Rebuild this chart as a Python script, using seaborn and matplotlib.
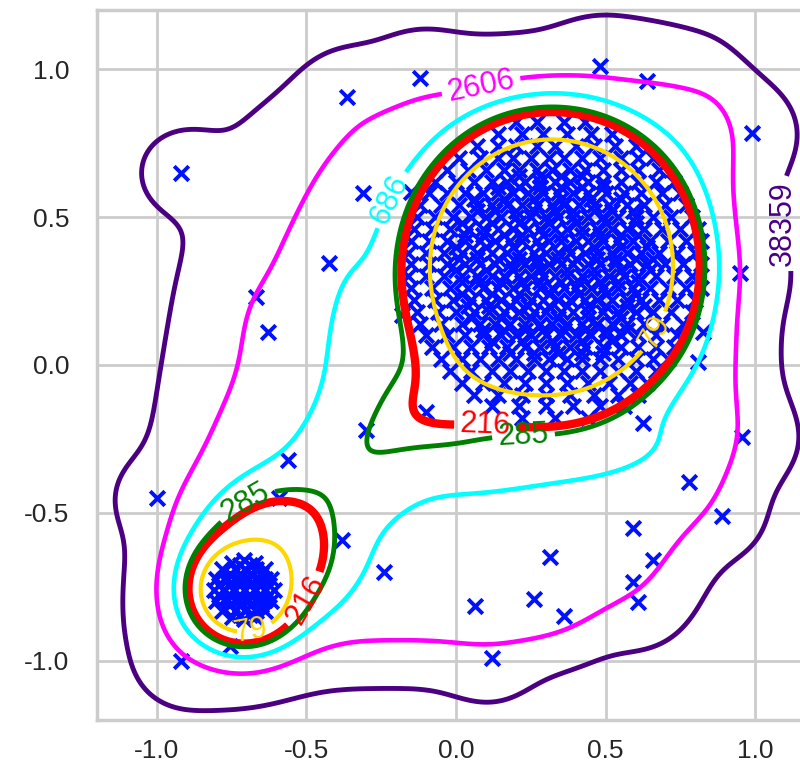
import matplotlib
matplotlib.use("Agg")
import matplotlib.pyplot as plt
import numpy as np
import pandas as pd
import seaborn as sns

# ---- data ----------------------------------------------------------------
# dense upper-right cluster, one row of x positions per y value
big_rows = [
    (0.82, [0.20, 0.27, 0.36, 0.43]),
    (0.78, [0.14, 0.22, 0.29, 0.37, 0.45, 0.52]),
    (0.74, [0.07, 0.14, 0.20, 0.27, 0.33, 0.40, 0.46, 0.53, 0.60]),
    (0.70, [0.01, 0.08, 0.14, 0.19, 0.25, 0.31, 0.36, 0.42, 0.48, 0.55, 0.61, 0.66]),
    (0.66, [-0.03, 0.04, 0.10, 0.16, 0.21, 0.27, 0.32, 0.38, 0.43, 0.49, 0.55, 0.61, 0.68]),
    (0.62, [-0.07, 0.00, 0.06, 0.12, 0.17, 0.23, 0.28, 0.33, 0.38, 0.44, 0.49, 0.55, 0.61, 0.67, 0.73]),
    (0.58, [-0.09, -0.03, 0.03, 0.09, 0.14, 0.19, 0.24, 0.29, 0.34, 0.39, 0.44, 0.50, 0.56, 0.62, 0.69, 0.75]),
    (0.54, [-0.12, -0.05, 0.01, 0.07, 0.12, 0.17, 0.22, 0.27, 0.32, 0.36, 0.41, 0.46, 0.51, 0.57, 0.63, 0.70, 0.77]),
    (0.50, [-0.13, -0.07, -0.01, 0.05, 0.10, 0.15, 0.20, 0.25, 0.30, 0.34, 0.39, 0.44, 0.49, 0.54, 0.60, 0.66, 0.72, 0.79]),
    (0.46, [-0.14, -0.08, -0.02, 0.04, 0.09, 0.14, 0.19, 0.24, 0.28, 0.33, 0.37, 0.42, 0.47, 0.52, 0.57, 0.63, 0.69, 0.75, 0.81]),
    (0.42, [-0.15, -0.09, -0.03, 0.03, 0.08, 0.13, 0.18, 0.22, 0.27, 0.31, 0.35, 0.40, 0.44, 0.49, 0.54, 0.59, 0.65, 0.71, 0.77, 0.82]),
    (0.38, [-0.16, -0.10, -0.04, 0.02, 0.07, 0.12, 0.17, 0.21, 0.26, 0.30, 0.34, 0.38, 0.43, 0.47, 0.52, 0.57, 0.62, 0.68, 0.74, 0.80]),
    (0.34, [-0.15, -0.09, -0.03, 0.03, 0.08, 0.13, 0.18, 0.23, 0.27, 0.31, 0.35, 0.39, 0.44, 0.48, 0.53, 0.58, 0.64, 0.70, 0.76, 0.82]),
    (0.30, [-0.16, -0.10, -0.04, 0.02, 0.07, 0.12, 0.16, 0.21, 0.25, 0.29, 0.33, 0.37, 0.42, 0.46, 0.51, 0.56, 0.61, 0.67, 0.73, 0.79]),
    (0.26, [-0.15, -0.08, -0.02, 0.04, 0.09, 0.14, 0.19, 0.23, 0.28, 0.32, 0.36, 0.40, 0.45, 0.49, 0.54, 0.59, 0.65, 0.71, 0.77, 0.82]),
    (0.22, [-0.14, -0.07, -0.01, 0.05, 0.10, 0.15, 0.20, 0.25, 0.29, 0.34, 0.38, 0.43, 0.47, 0.52, 0.57, 0.62, 0.68, 0.74, 0.80]),
    (0.18, [-0.13, -0.06, 0.00, 0.06, 0.11, 0.16, 0.21, 0.26, 0.30, 0.35, 0.39, 0.44, 0.49, 0.54, 0.60, 0.66, 0.72, 0.79]),
    (0.14, [-0.12, -0.05, 0.02, 0.08, 0.13, 0.18, 0.23, 0.28, 0.32, 0.37, 0.42, 0.47, 0.52, 0.57, 0.63, 0.69, 0.76]),
    (0.10, [-0.10, -0.03, 0.03, 0.09, 0.15, 0.20, 0.25, 0.30, 0.35, 0.40, 0.45, 0.50, 0.55, 0.61, 0.67, 0.74]),
    (0.06, [-0.08, -0.01, 0.05, 0.11, 0.17, 0.23, 0.28, 0.33, 0.38, 0.43, 0.49, 0.55, 0.61, 0.67, 0.73]),
    (0.02, [-0.05, 0.02, 0.08, 0.14, 0.20, 0.26, 0.31, 0.37, 0.42, 0.48, 0.54, 0.60, 0.66, 0.71]),
    (-0.02, [-0.02, 0.05, 0.12, 0.18, 0.24, 0.30, 0.36, 0.42, 0.48, 0.54, 0.60, 0.67]),
    (-0.06, [0.02, 0.09, 0.16, 0.23, 0.30, 0.37, 0.44, 0.51, 0.58, 0.64]),
    (-0.10, [0.06, 0.14, 0.22, 0.30, 0.38, 0.46, 0.54, 0.61]),
    (-0.14, [0.12, 0.21, 0.30, 0.39, 0.48, 0.56]),
    (-0.18, [0.22, 0.33, 0.44]),
    # in-between rows filling the core
    (0.64, [0.21, 0.28, 0.35, 0.42]),
    (0.60, [0.14, 0.21, 0.28, 0.35, 0.42, 0.49]),
    (0.56, [0.06, 0.16, 0.26, 0.35, 0.45, 0.55]),
    (0.52, [0.07, 0.13, 0.20, 0.26, 0.33, 0.39, 0.46, 0.52, 0.59]),
    (0.48, [0.02, 0.12, 0.21, 0.31, 0.40, 0.50, 0.60]),
    (0.44, [0.03, 0.09, 0.16, 0.22, 0.29, 0.35, 0.42, 0.48, 0.55, 0.61]),
    (0.40, [0.00, 0.10, 0.19, 0.28, 0.37, 0.46, 0.55, 0.64]),
    (0.36, [0.01, 0.07, 0.14, 0.21, 0.27, 0.34, 0.40, 0.47, 0.53, 0.60, 0.66]),
    (0.32, [0.00, 0.10, 0.19, 0.28, 0.37, 0.46, 0.55, 0.65]),
    (0.28, [0.02, 0.08, 0.15, 0.22, 0.28, 0.35, 0.41, 0.48, 0.54, 0.61]),
    (0.24, [0.02, 0.12, 0.21, 0.31, 0.41, 0.50, 0.60]),
    (0.20, [0.04, 0.11, 0.18, 0.24, 0.31, 0.37, 0.44, 0.50, 0.57, 0.63]),
    (0.16, [0.05, 0.15, 0.25, 0.34, 0.44, 0.55]),
    (0.12, [0.09, 0.16, 0.23, 0.29, 0.36, 0.43, 0.50, 0.57]),
    (0.08, [0.12, 0.22, 0.32, 0.42, 0.52]),
    (0.04, [0.18, 0.26, 0.34, 0.42, 0.49]),
]

# tight lower-left cluster
small_x = [-0.61, -0.618, -0.639, -0.672, -0.71, -0.748, -0.781, -0.802,
           -0.81, -0.802, -0.781, -0.748, -0.71, -0.672, -0.639, -0.618,
           -0.74, -0.705, -0.67,
           -0.775, -0.74, -0.705, -0.67, -0.64,
           -0.78, -0.745, -0.71, -0.675, -0.64,
           -0.775, -0.74, -0.705, -0.67, -0.64,
           -0.74, -0.705, -0.67,
           -0.757, -0.722, -0.687, -0.652,
           -0.792, -0.757, -0.722, -0.687, -0.652, -0.625,
           -0.792, -0.757, -0.722, -0.687, -0.652, -0.625,
           -0.757, -0.722, -0.687, -0.652,
           -0.722, -0.687, -0.762, -0.727, -0.692, -0.657,
           -0.762, -0.727, -0.692, -0.657, -0.722, -0.687]
small_y = [-0.76, -0.722, -0.689, -0.668, -0.66, -0.668, -0.689, -0.722,
           -0.76, -0.798, -0.831, -0.852, -0.86, -0.852, -0.831, -0.798,
           -0.69, -0.69, -0.69,
           -0.725, -0.725, -0.725, -0.725, -0.725,
           -0.76, -0.76, -0.76, -0.76, -0.76,
           -0.795, -0.795, -0.795, -0.795, -0.795,
           -0.83, -0.83, -0.83,
           -0.705, -0.705, -0.705, -0.705,
           -0.742, -0.742, -0.742, -0.742, -0.742, -0.742,
           -0.777, -0.777, -0.777, -0.777, -0.777, -0.777,
           -0.812, -0.812, -0.812, -0.812,
           -0.675, -0.675, -0.725, -0.725, -0.725, -0.725,
           -0.795, -0.795, -0.795, -0.795, -0.845, -0.845]

# scattered points
outlier_x = [-1.00, -0.56, -0.30, -0.59, -0.38, -0.24, -0.92, -0.755,
             -0.92, -0.365, -0.12, -0.31, -0.425, -0.67, -0.63, -0.15, -0.18,
             0.48, 0.64, 0.99, 0.95, 0.81, 0.825,
             -0.10, 0.625, 0.955, 0.78, 0.89, 0.59, 0.66, 0.59, 0.61,
             0.315, 0.26, 0.065, 0.36, 0.12]
outlier_y = [-0.45, -0.32, -0.22, -0.45, -0.59, -0.70, -1.00, -0.95,
             0.65, 0.905, 0.97, 0.58, 0.345, 0.23, 0.11, 0.585, 0.17,
             1.01, 0.96, 0.785, 0.31, 0.01, 0.11,
             -0.16, -0.195, -0.245, -0.395, -0.51, -0.55, -0.66, -0.735, -0.80,
             -0.65, -0.79, -0.815, -0.85, -0.99]

levels = [79, 216, 285, 686, 2606, 38359]
level_colors = ["gold", "red", "green", "cyan", "magenta", "indigo"]
level_widths = [3.0, 6.0, 3.5, 3.3, 3.3, 3.5]

# density model behind the score surface (score = 1 / density)
big_center, big_scale, big_weight, big_power = (0.32, 0.335), (0.44, 0.465), 0.0226, 5
shoulder_center, shoulder_sd, shoulder_weight = (-0.32, 0.14), (0.14, 0.28), 0.8e-3
heel_center, heel_sd, heel_weight = (0.01, -0.09), 0.15, 3.0e-3
apron_center, apron_sd, apron_weight = (0.30, -0.25), (0.30, 0.12), 0.8e-3
small_center, small_scale, small_weight = (-0.71, -0.76), 0.037, 0.55
skirt_center, skirt_sd, skirt_weight = (-0.61, -0.63), 0.12, 7.5e-3
bridge_center, bridge_sd, bridge_weight = (-0.30, -0.30), (0.30, 0.12), 1.9e-3
# broad plateau bounded by soft edges: normal, offset, sharpness
halo_weight = 1.05e-3
halo_normals = [(-1.0, 0.0), (1.0, 0.0), (0.0, -1.0), (0.0, 1.0),
                (-0.896, 0.445), (0.707, -0.707)]
halo_offsets = [0.95, 0.895, 0.90, 0.90, 0.57, 0.90]
halo_sharpness = [20, 20, 19, 16, 8, 18]
outlier_bw, outlier_weight = 0.10, 6e-5

# label anchors (one list per level)
label_spots = {
    79: [(0.65, 0.12), (-0.69, -0.88)],
    216: [(0.10, -0.18), (-0.50, -0.795)],
    285: [(0.225, -0.22), (-0.70, -0.47)],
    686: [(-0.24, 0.57)],
    2606: [(0.08, 0.96)],
    38359: [(1.10, 0.48)],
}

# ---- build frames --------------------------------------------------------
bx, by = [], []
for yv, xs in big_rows:
    bx.extend(xs)
    by.extend([yv] * len(xs))
points = pd.DataFrame({
    "x": bx + small_x + outlier_x,
    "y": by + small_y + outlier_y,
})

gx = np.linspace(-1.2, 1.2, 401)
X, Y = np.meshgrid(gx, gx)


def gauss(X, Y, center, sd):
    sx, sy = (sd, sd) if np.isscalar(sd) else sd
    return np.exp(-0.5 * ((X - center[0]) / sx) ** 2 - 0.5 * ((Y - center[1]) / sy) ** 2)


def score_surface(X, Y):
    q = np.hypot((X - big_center[0]) / big_scale[0], (Y - big_center[1]) / big_scale[1])
    dens = big_weight * np.exp(-q ** big_power)
    dens += shoulder_weight * gauss(X, Y, shoulder_center, shoulder_sd)
    dens += heel_weight * gauss(X, Y, heel_center, heel_sd)
    dens += apron_weight * gauss(X, Y, apron_center, apron_sd)
    r = np.hypot(X - small_center[0], Y - small_center[1])
    dens += small_weight * np.exp(-r / small_scale)
    dens += skirt_weight * gauss(X, Y, skirt_center, skirt_sd)
    dx, dy = X - bridge_center[0], Y - bridge_center[1]
    u, v = (dx + dy) / np.sqrt(2), (dy - dx) / np.sqrt(2)
    dens += bridge_weight * np.exp(-0.5 * (u / bridge_sd[0]) ** 2
                                   - 0.5 * (v / bridge_sd[1]) ** 2)
    log_halo = np.zeros_like(X)
    for (nx, ny), c, k in zip(halo_normals, halo_offsets, halo_sharpness):
        log_halo -= np.logaddexp(0.0, k * (nx * X + ny * Y - c))
    dens += halo_weight * np.exp(log_halo)
    for ox, oy in zip(outlier_x, outlier_y):
        dens += outlier_weight * gauss(X, Y, (ox, oy), outlier_bw)
    return 1.0 / dens


Z = score_surface(X, Y)

# ---- draw ----------------------------------------------------------------
sns.set_theme(style="whitegrid")
plt.rcParams["font.family"] = ["Liberation Sans", "DejaVu Sans"]
plt.rcParams["axes.unicode_minus"] = False

fig = plt.figure(figsize=(8.0, 7.73), dpi=100)
ax = fig.add_axes([97 / 800, 53 / 773, 718 / 800, 710 / 773])

sns.scatterplot(data=points, x="x", y="y", marker="x", color="#0011ff",
                s=110, linewidth=2.8, ax=ax, zorder=2)

for lev, col, lw in zip(levels, level_colors, level_widths):
    cs = ax.contour(X, Y, Z, levels=[lev], colors=[col], linewidths=lw, zorder=3)
    texts = ax.clabel(cs, fmt="%d", fontsize=22, inline=True, inline_spacing=6,
                      manual=label_spots[lev])
    for t in texts:
        if abs(abs(t.get_rotation() % 180) - 90) < 5:
            t.set_rotation(90)

ax.set_xlim(-1.2, 1.2)
ax.set_ylim(-1.2, 1.2)
ax.set_xticks([-1.0, -0.5, 0.0, 0.5, 1.0])
ax.set_yticks([-1.0, -0.5, 0.0, 0.5, 1.0])
ax.set_xlabel("")
ax.set_ylabel("")
ax.tick_params(labelsize=19, length=0)
ax.tick_params(axis="x", pad=14)
ax.tick_params(axis="y", pad=20)
ax.grid(True, color="#cccccc", linewidth=2)
for sp in ax.spines.values():
    sp.set_color("#cccccc")
    sp.set_linewidth(2.5)

fig.savefig("out.png", dpi=100)
